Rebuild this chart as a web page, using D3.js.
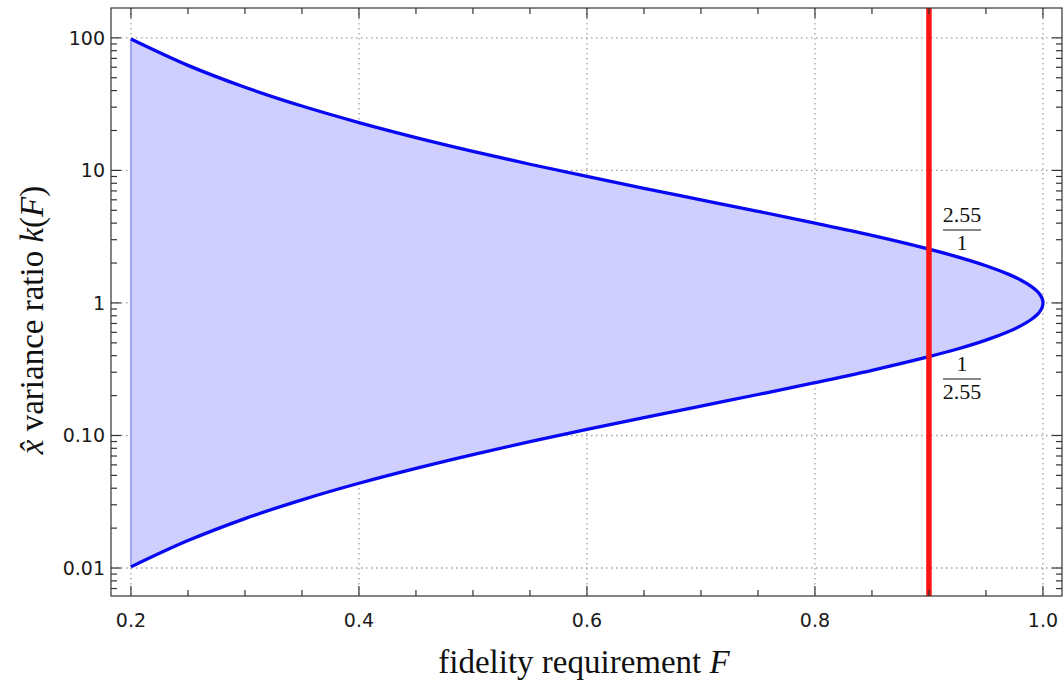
<!DOCTYPE html>
<html>
<head>
<meta charset="utf-8">
<script src="https://cdn.jsdelivr.net/npm/d3@7"></script>
<style>
  body { margin: 0; background: #fff; }
  .tick-label { font-family: "DejaVu Sans", sans-serif; font-size: 19px; fill: #1a1a1a; }
  .title { font-family: "Liberation Serif", "DejaVu Serif", serif; font-size: 33px; fill: #111; }
  .frac { font-family: "Liberation Serif", "DejaVu Serif", serif; font-size: 22px; fill: #111; }
</style>
</head>
<body>
<div id="chart"></div>
<script>
// values
var fidelity = [0.2, 0.25, 0.3, 0.35, 0.4, 0.45, 0.5, 0.55, 0.6, 0.65, 0.7, 0.75, 0.8,
  0.85, 0.9, 0.925, 0.95, 0.97, 0.98, 0.99, 0.995, 0.9975, 0.999, 0.9999, 1.0];
var kUpper = [98.0, 62.0, 42.4, 30.6, 22.96, 17.7, 13.93, 11.13, 9.0, 7.33, 6.0, 4.91, 4.0,
  3.23, 2.545, 2.226, 1.908, 1.642, 1.497, 1.329, 1.222, 1.152, 1.094, 1.029, 1.0];
var kLower = [0.0102, 0.0161, 0.0236, 0.0327, 0.0436, 0.0565, 0.0718, 0.0899, 0.111, 0.1364,
  0.1668, 0.2038, 0.25, 0.31, 0.393, 0.449, 0.524, 0.609, 0.668, 0.753, 0.818, 0.868,
  0.914, 0.972, 1.0];
var xTicks = [0.2, 0.4, 0.6, 0.8, 1.0];
var xTickLabels = ["0.2", "0.4", "0.6", "0.8", "1.0"];
var yTicks = [0.01, 0.1, 1, 10, 100];
var yTickLabels = ["0.01", "0.10", "1", "10", "100"];
var markerF = 0.9;
var markerRatio = "2.55";

var width = 1064, height = 684;
var plotLeft = 111, plotRight = 1062, plotTop = 8, plotBottom = 596;

var svg = d3.select("#chart").append("svg")
  .attr("width", width)
  .attr("height", height);

var x = d3.scaleLinear().domain([0.1825, 1.0167]).range([plotLeft, plotRight]);
var y = d3.scaleLog().domain([0.00615, 168]).range([plotBottom, plotTop]);

// grid
var grid = svg.append("g").attr("stroke", "#a0a0a0").attr("stroke-width", 1.3)
  .attr("stroke-dasharray", "1.5,3.5");
grid.selectAll(".gx").data(xTicks).enter().append("line")
  .attr("x1", d => x(d)).attr("x2", d => x(d)).attr("y1", plotTop).attr("y2", plotBottom);
grid.selectAll(".gy").data(yTicks).enter().append("line")
  .attr("y1", d => y(d)).attr("y2", d => y(d)).attr("x1", plotLeft).attr("x2", plotRight);

// filled region between curves
var pts = fidelity.map((f, i) => [f, kUpper[i]]);
var lowPts = fidelity.map((f, i) => [f, kLower[i]]).reverse().slice(1);
var outline = pts.concat(lowPts);

var line = d3.line()
  .x(d => x(d[0]))
  .y(d => y(d[1]))
  .curve(d3.curveCatmullRom.alpha(0.5));

svg.append("path")
  .attr("d", line(outline) + "Z")
  .attr("fill", "#ccccfd")
  .attr("fill-opacity", 0.95)
  .attr("stroke", "none");

// left edge of the filling
svg.append("line")
  .attr("x1", x(fidelity[0])).attr("x2", x(fidelity[0]))
  .attr("y1", y(kUpper[0])).attr("y2", y(kLower[0]))
  .attr("stroke", "#a3a3f7").attr("stroke-width", 2);

svg.append("path")
  .attr("d", line(outline))
  .attr("fill", "none")
  .attr("stroke", "#0808f2")
  .attr("stroke-width", 3.3);

// red marker line
svg.append("line")
  .attr("x1", x(markerF)).attr("x2", x(markerF))
  .attr("y1", plotTop).attr("y2", plotBottom)
  .attr("stroke", "#ff1414").attr("stroke-width", 5.5);

// frame
svg.append("rect")
  .attr("x", plotLeft).attr("y", plotTop)
  .attr("width", plotRight - plotLeft).attr("height", plotBottom - plotTop)
  .attr("fill", "none").attr("stroke", "#333").attr("stroke-width", 1.2);

// ticks
var tickG = svg.append("g").attr("stroke", "#333").attr("stroke-width", 1.2);
var xMinor = d3.range(0.2, 1.0001, 0.05).map(v => +v.toFixed(2));
xMinor.forEach(function (v) {
  var major = xTicks.some(t => Math.abs(t - v) < 1e-6);
  var len = major ? 10 : 6;
  tickG.append("line").attr("x1", x(v)).attr("x2", x(v)).attr("y1", plotBottom).attr("y2", plotBottom - len);
  tickG.append("line").attr("x1", x(v)).attr("x2", x(v)).attr("y1", plotTop).attr("y2", plotTop + len);
});
var yMinor = [];
[0.001, 0.01, 0.1, 1, 10, 100].forEach(function (d) {
  for (var m = 1; m < 10; m++) yMinor.push({ v: d * m, major: m === 1 });
});
yMinor.filter(t => t.v >= 0.00615 && t.v <= 168).forEach(function (t) {
  var len = t.major ? 10 : 6;
  tickG.append("line").attr("y1", y(t.v)).attr("y2", y(t.v)).attr("x1", plotLeft).attr("x2", plotLeft + len);
  tickG.append("line").attr("y1", y(t.v)).attr("y2", y(t.v)).attr("x1", plotRight).attr("x2", plotRight - len);
});

// tick labels
svg.selectAll(".xl").data(xTicks).enter().append("text")
  .attr("class", "tick-label")
  .attr("x", d => x(d)).attr("y", plotBottom + 31)
  .attr("text-anchor", "middle")
  .text((d, i) => xTickLabels[i]);
svg.selectAll(".yl").data(yTicks).enter().append("text")
  .attr("class", "tick-label")
  .attr("x", plotLeft - 6).attr("y", d => y(d) + 7)
  .attr("text-anchor", "end")
  .text((d, i) => yTickLabels[i]);

// axis titles
var xt = svg.append("text").attr("class", "title")
  .attr("x", 584).attr("y", 673).attr("text-anchor", "middle");
xt.append("tspan").text("fidelity requirement ");
xt.append("tspan").attr("font-style", "italic").text("F");

var yt = svg.append("text").attr("class", "title")
  .attr("font-size", 35)
  .attr("transform", "translate(43,320) rotate(-90)")
  .attr("text-anchor", "middle");
yt.append("tspan").attr("font-style", "italic").text("x\u0302");
yt.append("tspan").text(" variance ratio ");
yt.append("tspan").attr("font-style", "italic").text("k");
yt.append("tspan").text("(");
yt.append("tspan").attr("font-style", "italic").text("F");
yt.append("tspan").text(")");

// fraction annotations
function fraction(cx, cy, num, den) {
  var g = svg.append("g");
  g.append("text").attr("class", "frac").attr("x", cx).attr("y", cy - 8)
    .attr("text-anchor", "middle").text(num);
  g.append("line").attr("x1", cx - 19).attr("x2", cx + 19)
    .attr("y1", cy).attr("y2", cy).attr("stroke", "#111").attr("stroke-width", 1);
  g.append("text").attr("class", "frac").attr("x", cx).attr("y", cy + 20)
    .attr("text-anchor", "middle").text(den);
}
fraction(962, 230, markerRatio, "1");
fraction(962, 379, "1", markerRatio);
</script>
</body>
</html>
